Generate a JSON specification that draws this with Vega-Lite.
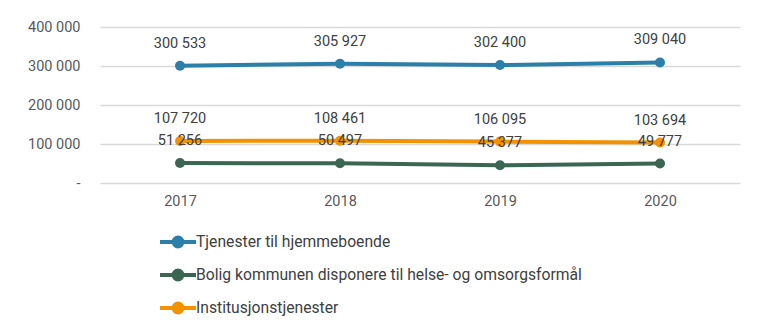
{
  "$schema": "https://vega.github.io/schema/vega-lite/v6.json",
  "autosize": {"type": "none"},
  "width": 640,
  "height": 156,
  "padding": {"left": 100, "top": 27, "right": 28, "bottom": 149},
  "background": "white",
  "config": {
    "locale": {"number": {"decimal": ",", "thousands": " ", "grouping": [3], "currency": ["", " kr"]}},
    "font": "Roboto",
    "view": {"stroke": null}
  },
  "data": {"values": [
    {"year": "2017", "serie": "Tjenester til hjemmeboende", "value": 300533},
    {"year": "2018", "serie": "Tjenester til hjemmeboende", "value": 305927},
    {"year": "2019", "serie": "Tjenester til hjemmeboende", "value": 302400},
    {"year": "2020", "serie": "Tjenester til hjemmeboende", "value": 309040},
    {"year": "2017", "serie": "Bolig kommunen disponere til helse- og omsorgsformål", "value": 51256},
    {"year": "2018", "serie": "Bolig kommunen disponere til helse- og omsorgsformål", "value": 50497},
    {"year": "2019", "serie": "Bolig kommunen disponere til helse- og omsorgsformål", "value": 45377},
    {"year": "2020", "serie": "Bolig kommunen disponere til helse- og omsorgsformål", "value": 49777},
    {"year": "2017", "serie": "Institusjonstjenester", "value": 107720},
    {"year": "2018", "serie": "Institusjonstjenester", "value": 108461},
    {"year": "2019", "serie": "Institusjonstjenester", "value": 106095},
    {"year": "2020", "serie": "Institusjonstjenester", "value": 103694}
  ]},
  "encoding": {
    "x": {
      "field": "year", "type": "ordinal",
      "scale": {"type": "point", "padding": 0.5},
      "axis": {"title": null, "labelAngle": 0, "domain": false, "ticks": false, "grid": false,
               "labelFontSize": 14.5, "labelColor": "#595959", "labelPadding": 11, "labelFont": "Roboto"}
    },
    "y": {
      "field": "value", "type": "quantitative",
      "scale": {"domain": [0, 400000], "nice": false},
      "axis": {"title": null, "values": [0, 100000, 200000, 300000, 400000],
               "labelExpr": "datum.value == 0 ? '-' : format(datum.value, ',d')",
               "domain": false, "ticks": false, "grid": true, "gridColor": "#d9d9d9", "gridWidth": 1.5,
               "labelFontSize": 14.5, "labelColor": "#595959", "labelPadding": 20, "labelFont": "Roboto"}
    },
    "color": {
      "field": "serie", "type": "nominal",
      "scale": {
        "domain": ["Tjenester til hjemmeboende", "Bolig kommunen disponere til helse- og omsorgsformål", "Institusjonstjenester"],
        "range": ["#2c7fa8", "#3b6653", "#f29200"]
      },
      "legend": {
        "title": null, "orient": "none", "legendX": 58, "legendY": 195,
        "symbolType": "M-1,0H1M-0.25,0A0.25,0.25 0 1,1 0.25,0A0.25,0.25 0 1,1 -0.25,0Z",
        "symbolSize": 1296, "symbolStrokeWidth": 4, "symbolOpacity": 1,
        "labelFontSize": 15.7, "labelColor": "#404040", "labelFont": "Roboto", "labelOffset": -2,
        "labelLimit": 600, "rowPadding": -10,
        "encode": {"symbols": {"update": {"fill": {"scale": "color", "field": "value"}}}}
      }
    }
  },
  "layer": [
    {"mark": {"type": "line", "strokeWidth": 4}},
    {"mark": {"type": "point", "filled": true, "size": 100, "opacity": 1}},
    {
      "mark": {"type": "text", "dy": -22, "fontSize": 14.5, "color": "#404040", "font": "Roboto"},
      "encoding": {"text": {"field": "value", "type": "quantitative", "format": ",d"}, "color": {"value": "#404040"}}
    }
  ]
}
